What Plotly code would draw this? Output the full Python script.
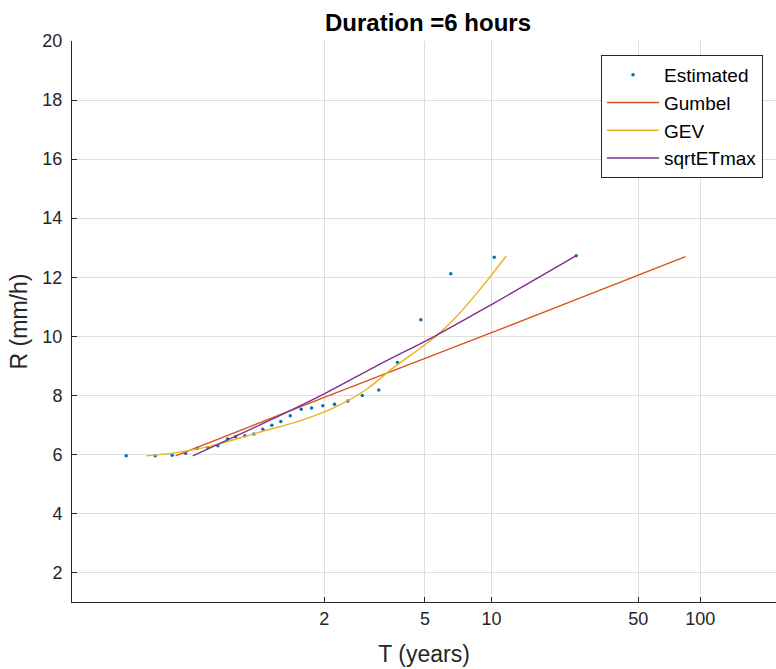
import numpy as np
import plotly.graph_objects as go

# ---- data ----
est_T = [1.00159, 1.00966, 1.02198, 1.03810, 1.05840, 1.08278, 1.1119, 1.1461, 1.1797,
         1.2249, 1.2758, 1.3344, 1.4011, 1.4771, 1.5669, 1.6872, 1.8165, 1.9782, 2.1711,
         2.4260, 2.7510, 3.1990, 3.8197, 4.8008, 6.515, 10.294, 25.14]
est_R = [5.95, 5.95, 5.97, 6.04, 6.21, 6.23, 6.29, 6.52, 6.60, 6.63, 6.69, 6.85, 6.99,
         7.11, 7.31, 7.53, 7.57, 7.65, 7.70, 7.81, 7.99, 8.18, 9.11, 10.56, 12.12, 12.68, 12.73]

gumbel_T = [1.0254, 2.0, 10.0, 84.8]
gumbel_R = [5.95, 7.93, 10.12, 12.70]

gev_T = [1.005866, 1.02615, 1.08727, 1.2907, 1.7062, 2.2012, 2.833, 3.651, 5.609, 6.892, 8.803, 11.708]
gev_R = [5.95, 6.06, 6.27, 6.72, 7.17, 7.62, 8.18, 8.92, 10.01, 10.66, 11.57, 12.72]

sqrt_T = [1.05003, 1.3833, 2.0, 3.2206, 5.513, 10.14, 25.14]
sqrt_R = [5.95, 7.15, 8.05, 9.05, 10.0, 11.1, 12.73]

tick_T = [2, 5, 10, 50, 100]
y_ticks = [2, 4, 6, 8, 10, 12, 14, 16, 18, 20]


def gumbel_variate(T):
    T = np.asarray(T, dtype=float)
    return -np.log(-np.log(1.0 - 1.0 / T))


FONT = "Liberation Sans, Arial, Helvetica, sans-serif"
TXT = "#262626"

fig = go.Figure()
fig.add_trace(go.Scatter(x=gumbel_variate(est_T), y=est_R, mode="markers", name="Estimated",
                         legendgroup="a",
                         marker=dict(color="#0072BD", size=3.5, line=dict(width=0))))
fig.add_trace(go.Scatter(x=gumbel_variate(gumbel_T), y=gumbel_R, mode="lines", name="Gumbel",
                         legendgroup="b", line=dict(color="#D95319", width=1.4)))
fig.add_trace(go.Scatter(x=gumbel_variate(gev_T), y=gev_R, mode="lines", name="GEV",
                         legendgroup="c", line=dict(color="#EDB120", width=1.4, shape="spline")))
fig.add_trace(go.Scatter(x=gumbel_variate(sqrt_T), y=sqrt_R, mode="lines", name="sqrtETmax",
                         legendgroup="d", line=dict(color="#7E2F8E", width=1.4, shape="spline")))

fig.update_layout(
    width=776, height=669,
    margin=dict(l=72, r=0, t=41, b=67, pad=0),
    paper_bgcolor="white", plot_bgcolor="white",
    font=dict(family=FONT, color=TXT, size=18),
    title=dict(text="<b>Duration =6 hours</b>", x=428 / 776, xanchor="center",
               y=1 - 23 / 669, yanchor="middle",
               font=dict(family=FONT, size=24, color="black")),
    xaxis=dict(
        range=[-2.474, 5.454],
        tickvals=list(gumbel_variate(tick_T)),
        ticktext=[str(t) for t in tick_T],
        ticks="inside", ticklen=5, tickcolor=TXT, tickwidth=1,
        showline=True, linecolor=TXT, linewidth=1, mirror=False,
        showgrid=True, gridcolor="#dedede", gridwidth=1, zeroline=False,
        tickfont=dict(size=18, color=TXT),
        title=dict(text="T (years)", font=dict(size=23, color=TXT), standoff=18),
    ),
    yaxis=dict(
        range=[1, 20],
        tickvals=y_ticks,
        ticks="inside", ticklen=5, tickcolor=TXT, tickwidth=1,
        showline=True, linecolor=TXT, linewidth=1, mirror=False,
        showgrid=True, gridcolor="#dedede", gridwidth=1, zeroline=False,
        tickfont=dict(size=18, color=TXT),
        ticklabelstandoff=5,
        title=dict(text="R (mm/h)", font=dict(size=23, color=TXT), standoff=8),
    ),
    legend=dict(
        x=(601 - 72) / 704, y=(602 - 55) / 561, xanchor="left", yanchor="top",
        bgcolor="white", bordercolor="#262626", borderwidth=1,
        font=dict(size=19, color="black", family=FONT),
        tracegroupgap=0, itemwidth=52,
    ),
    showlegend=True,
)

fig.write_html("out.html")
